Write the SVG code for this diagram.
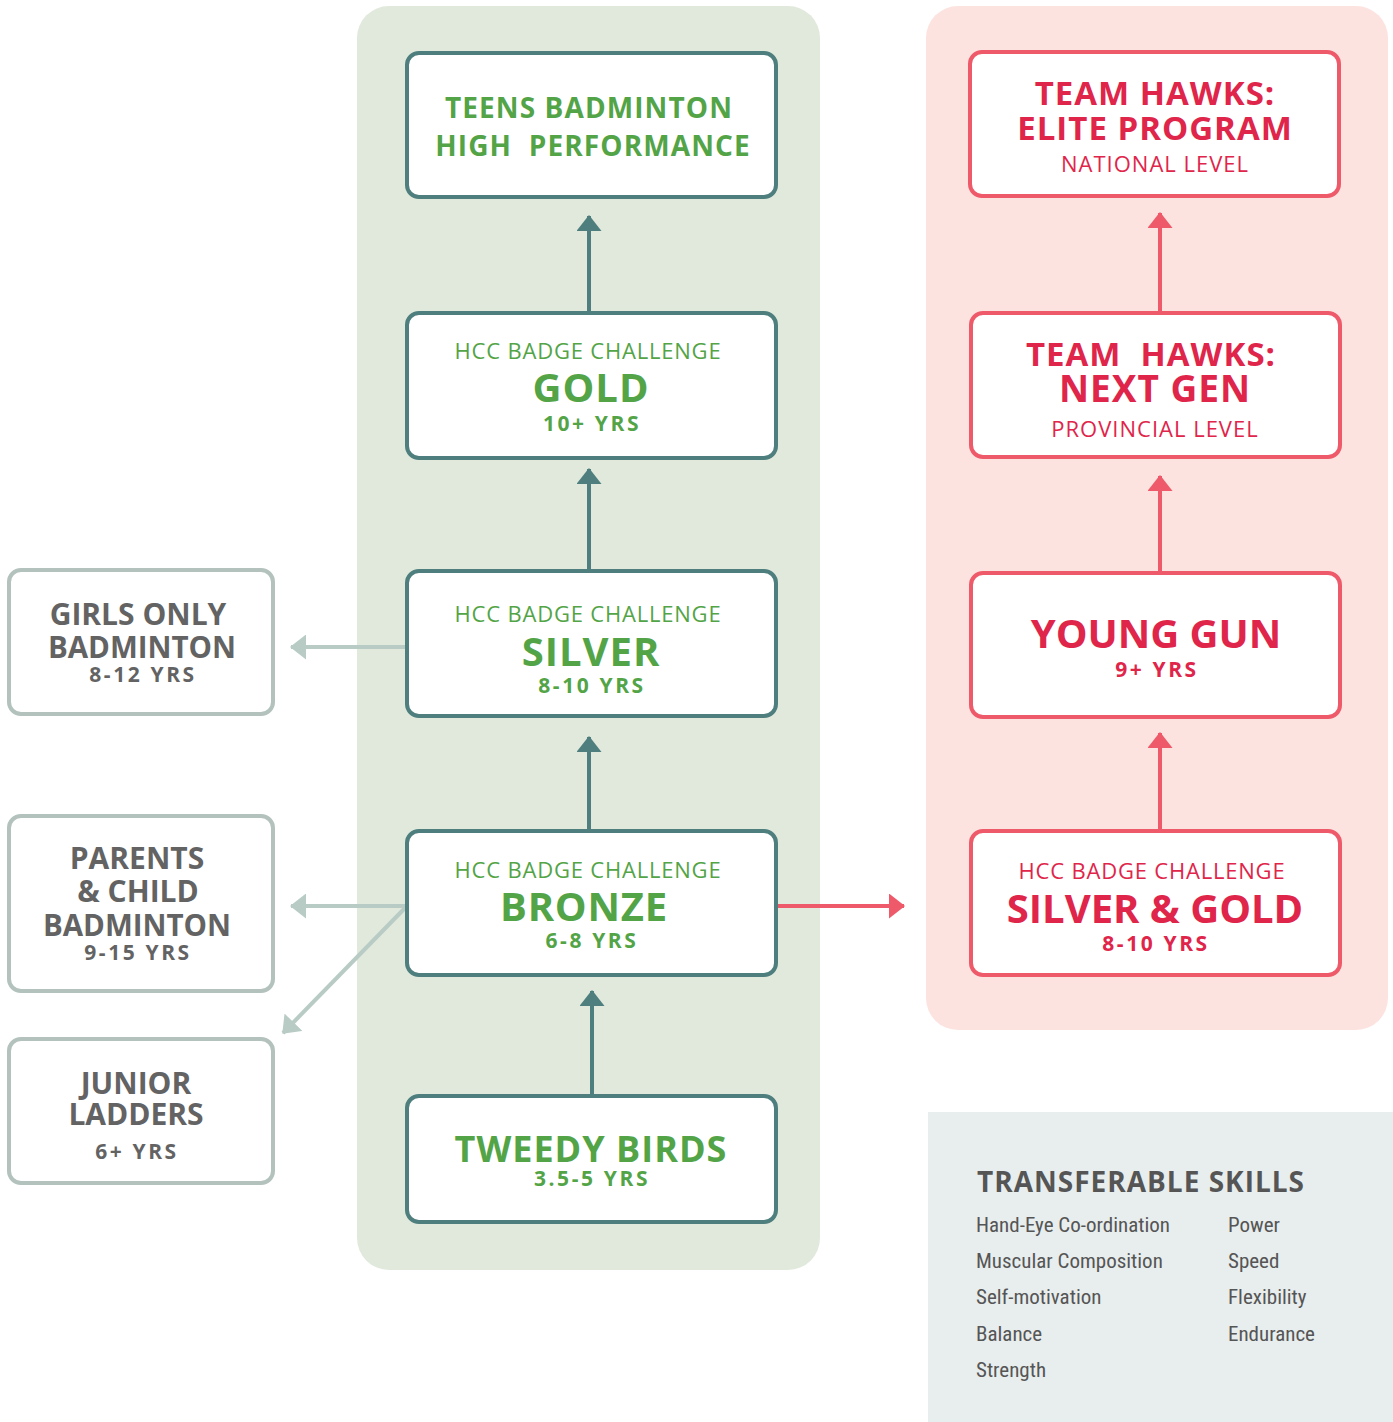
<svg xmlns="http://www.w3.org/2000/svg" width="1393" height="1422" viewBox="0 0 1393 1422">
<style>
.g{fill:#fff;stroke:#4e7f7e;stroke-width:4}
.r{fill:#fff;stroke:#ee5a6a;stroke-width:4}
.s{fill:#fff;stroke:#b3c2bd;stroke-width:4}
text{font-family:"Open Sans","Noto Sans",sans-serif;text-anchor:middle}
.gt{fill:#53a447}
.rt{fill:#e0254a}
.st{fill:#636363}
.b{font-weight:700}
.hcc{font-size:22px;letter-spacing:0.8px}
.yrs{font-size:21px;font-weight:700;letter-spacing:2.6px}
.sk{font-family:"Liberation Sans Narrow","Roboto Condensed","Liberation Sans",sans-serif;font-size:21px;fill:#555;text-anchor:start}
.lg{stroke:#4e7f7e;stroke-width:4;fill:none}
.lr{stroke:#ee5a6a;stroke-width:4;fill:none}
.ls{stroke:#b8cbc5;stroke-width:4;fill:none}
</style>
<defs>
<marker id="ag" viewBox="0 0 16 25" refX="15" refY="12.5" markerWidth="16" markerHeight="25" markerUnits="userSpaceOnUse" orient="auto"><path d="M0,0L16,12.5L0,25z" fill="#4e7f7e"/></marker>
<marker id="ar" viewBox="0 0 16 25" refX="15" refY="12.5" markerWidth="16" markerHeight="25" markerUnits="userSpaceOnUse" orient="auto"><path d="M0,0L16,12.5L0,25z" fill="#ee5a6a"/></marker>
<marker id="as" viewBox="0 0 16 25" refX="15" refY="12.5" markerWidth="16" markerHeight="25" markerUnits="userSpaceOnUse" orient="auto"><path d="M0,0L16,12.5L0,25z" fill="#b8cbc5"/></marker>
</defs>
<rect x="357" y="6" width="463" height="1264" rx="32" fill="#e1e9dc"/>
<rect x="926" y="6" width="462" height="1024" rx="32" fill="#fce3e0"/>
<rect x="928" y="1112" width="465" height="310" fill="#e8eded"/>

<g id="connectors">
<path class="lg" d="M589,312V216" marker-end="url(#ag)"/>
<path class="lg" d="M589,570V469" marker-end="url(#ag)"/>
<path class="lg" d="M589,830V737" marker-end="url(#ag)"/>
<path class="lg" d="M592,1095V991" marker-end="url(#ag)"/>
<path class="lr" d="M1160,312V213" marker-end="url(#ar)"/>
<path class="lr" d="M1160,572V476" marker-end="url(#ar)"/>
<path class="lr" d="M1160,830V733" marker-end="url(#ar)"/>
<path class="lr" d="M776,906H904" marker-end="url(#ar)"/>
<path class="ls" d="M407,647H291" marker-end="url(#as)"/>
<path class="ls" d="M407,906H291" marker-end="url(#as)"/>
<path class="ls" d="M405,908L283,1033" marker-end="url(#as)"/>
</g>

<g id="teens">
<rect class="g" x="407" y="53" width="369" height="144" rx="12"/>
<text class="gt b" x="589" y="118" font-size="28" letter-spacing="1.1">TEENS BADMINTON</text>
<text class="gt b" x="593" y="156" font-size="28" letter-spacing="1.1" xml:space="preserve">HIGH  PERFORMANCE</text>
</g>
<g id="gold">
<rect class="g" x="407" y="313" width="369" height="145" rx="12"/>
<text class="gt hcc" x="588" y="359">HCC BADGE CHALLENGE</text>
<text class="gt b" x="591" y="402" font-size="40" letter-spacing="1">GOLD</text>
<text class="gt yrs" x="592" y="431">10+ YRS</text>
</g>
<g id="silver">
<rect class="g" x="407" y="571" width="369" height="145" rx="12"/>
<text class="gt hcc" x="588" y="622">HCC BADGE CHALLENGE</text>
<text class="gt b" x="591" y="666" font-size="40" letter-spacing="1">SILVER</text>
<text class="gt yrs" x="592" y="693">8-10 YRS</text>
</g>
<g id="bronze">
<rect class="g" x="407" y="831" width="369" height="144" rx="12"/>
<text class="gt hcc" x="588" y="878">HCC BADGE CHALLENGE</text>
<text class="gt b" x="584" y="921" font-size="40" letter-spacing="0.8">BRONZE</text>
<text class="gt yrs" x="592" y="948">6-8 YRS</text>
</g>
<g id="tweedy">
<rect class="g" x="407" y="1096" width="369" height="126" rx="12"/>
<text class="gt b" x="591" y="1162" font-size="36" letter-spacing="1">TWEEDY BIRDS</text>
<text class="gt yrs" x="592" y="1186">3.5-5 YRS</text>
</g>

<g id="elite">
<rect class="r" x="970" y="52" width="369" height="144" rx="12"/>
<text class="rt b" x="1155" y="105" font-size="33" letter-spacing="1">TEAM HAWKS:</text>
<text class="rt b" x="1155" y="140" font-size="33" letter-spacing="1">ELITE PROGRAM</text>
<text class="rt" x="1155" y="172" font-size="22" letter-spacing="1">NATIONAL LEVEL</text>
</g>
<g id="nextgen">
<rect class="r" x="971" y="313" width="369" height="144" rx="12"/>
<text class="rt b" x="1151" y="366" font-size="33" letter-spacing="1" xml:space="preserve">TEAM  HAWKS:</text>
<text class="rt b" x="1155" y="402" font-size="37" letter-spacing="1">NEXT GEN</text>
<text class="rt" x="1155" y="437" font-size="22" letter-spacing="1">PROVINCIAL LEVEL</text>
</g>
<g id="younggun">
<rect class="r" x="971" y="573" width="369" height="144" rx="12"/>
<text class="rt b" x="1156" y="648" font-size="40">YOUNG GUN</text>
<text class="rt yrs" x="1157" y="677">9+ YRS</text>
</g>
<g id="silvergold">
<rect class="r" x="971" y="831" width="369" height="144" rx="12"/>
<text class="rt hcc" x="1152" y="879">HCC BADGE CHALLENGE</text>
<text class="rt b" x="1155" y="923" font-size="40">SILVER &amp; GOLD</text>
<text class="rt yrs" x="1156" y="951">8-10 YRS</text>
</g>

<g id="girls">
<rect class="s" x="9" y="570" width="264" height="144" rx="12"/>
<text class="st b" x="138" y="625" font-size="30">GIRLS ONLY</text>
<text class="st b" x="142" y="658" font-size="29.5">BADMINTON</text>
<text class="st yrs" x="143" y="682">8-12 YRS</text>
</g>
<g id="parents">
<rect class="s" x="9" y="816" width="264" height="175" rx="12"/>
<text class="st b" x="137" y="869" font-size="30">PARENTS</text>
<text class="st b" x="138" y="902" font-size="30">&amp; CHILD</text>
<text class="st b" x="137" y="936" font-size="29.5">BADMINTON</text>
<text class="st yrs" x="138" y="960">9-15 YRS</text>
</g>
<g id="junior">
<rect class="s" x="9" y="1039" width="264" height="144" rx="12"/>
<text class="st b" x="136" y="1094" font-size="30">JUNIOR</text>
<text class="st b" x="136" y="1125" font-size="30">LADDERS</text>
<text class="st yrs" x="137" y="1159">6+ YRS</text>
</g>

<g id="skills">
<text x="977" y="1192" font-size="28" font-weight="700" fill="#555" letter-spacing="1" style="text-anchor:start">TRANSFERABLE SKILLS</text>
<text class="sk" x="976" y="1232">Hand-Eye Co-ordination</text>
<text class="sk" x="976" y="1268">Muscular Composition</text>
<text class="sk" x="976" y="1304">Self-motivation</text>
<text class="sk" x="976" y="1341">Balance</text>
<text class="sk" x="976" y="1377">Strength</text>
<text class="sk" x="1228" y="1232">Power</text>
<text class="sk" x="1228" y="1268">Speed</text>
<text class="sk" x="1228" y="1304">Flexibility</text>
<text class="sk" x="1228" y="1341">Endurance</text>
</g>
</svg>
